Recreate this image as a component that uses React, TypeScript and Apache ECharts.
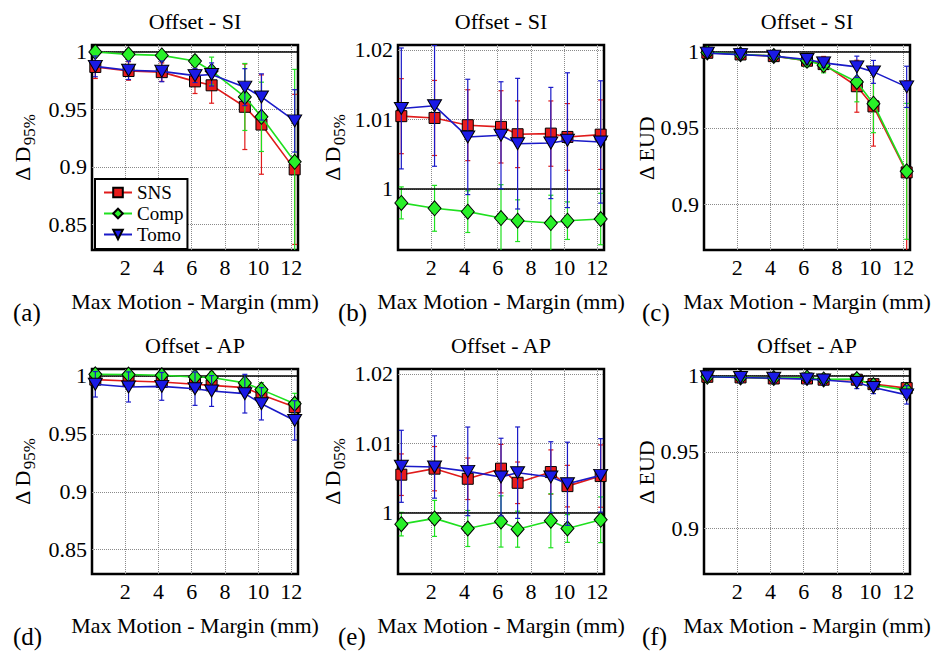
import React, { useEffect, useRef } from 'react';
import * as echarts from 'echarts';

// x positions (Max Motion - Margin, mm)
const xVals = [0.2, 2.2, 4.2, 6.2, 7.2, 9.2, 10.2, 12.2];
const xTicks = [2, 4, 6, 8, 10, 12];
const seriesNames = ['SNS', 'Comp', 'Tomo'];
const panelTitles = ['Offset - SI', 'Offset - SI', 'Offset - SI', 'Offset - AP', 'Offset - AP', 'Offset - AP'];
const panelLetters = ['(a)', '(b)', '(c)', '(d)', '(e)', '(f)'];
const xAxisTitle = 'Max Motion - Margin (mm)';

const ticksD95 = [0.85, 0.9, 0.95, 1];
const ticksD05 = [1, 1.01, 1.02];
const ticksEUD = [0.9, 0.95, 1];

// (a) ΔD95% SI
const snsA = [0.9865, 0.983, 0.982, 0.974, 0.9706, 0.952, 0.9366, 0.8978];
const snsAErr = [0.01, 0.008, 0.008, 0.0105, 0.0155, 0.037, 0.043, 0.065];
const compA = [0.9995, 0.9974, 0.9965, 0.9916, 0.983, 0.9605, 0.9433, 0.9044];
const compAErr = [0.004, 0.004, 0.004, 0.005, 0.012, 0.029, 0.03, 0.08];
const tomoA = [0.987, 0.9836, 0.9827, 0.979, 0.98, 0.969, 0.9605, 0.9398];
const tomoAErr = [0.009, 0.008, 0.009, 0.006, 0.01, 0.016, 0.02, 0.027];

// (b) ΔD05% SI
const snsB = [1.01046, 1.0102, 1.00916, 1.00892, 1.00786, 1.00795, 1.00747, 1.0078];
const snsBErr = [0.0054, 0.0054, 0.0051, 0.0052, 0.0048, 0.0047, 0.0048, 0.005];
const compB = [0.99798, 0.9972, 0.99672, 0.9958, 0.99542, 0.99508, 0.99542, 0.99566];
const compBErr = [0.0023, 0.0033, 0.003, 0.0048, 0.003, 0.004, 0.0027, 0.0037];
const tomoB = [1.01157, 1.01195, 1.00747, 1.00771, 1.0065, 1.0066, 1.007, 1.00675];
const tomoBErr = [0.0087, 0.0087, 0.0083, 0.0077, 0.0094, 0.008, 0.0097, 0.0088];

// (c) ΔEUD SI
const snsC = [0.9991, 0.998, 0.9969, 0.9939, 0.9917, 0.9772, 0.964, 0.9208];
const snsCErr = [0.002, 0.002, 0.002, 0.003, 0.005, 0.017, 0.026, 0.06];
const compC = [0.9993, 0.9981, 0.997, 0.9939, 0.991, 0.98, 0.9658, 0.9215];
const compCErr = [0.002, 0.002, 0.002, 0.004, 0.005, 0.013, 0.019, 0.0445];
const tomoC = [0.9989, 0.9979, 0.9969, 0.9947, 0.9925, 0.9899, 0.9866, 0.9768];
const tomoCErr = [0.002, 0.002, 0.002, 0.003, 0.003, 0.007, 0.0075, 0.0135];

// (d) ΔD95% AP
const snsD = [0.9968, 0.9957, 0.9948, 0.9928, 0.9919, 0.9899, 0.9838, 0.9731];
const snsDErr = [0.005, 0.005, 0.005, 0.006, 0.006, 0.007, 0.006, 0.006];
const compD = [1.0014, 1.0012, 1.0006, 0.9991, 0.9986, 0.994, 0.9882, 0.976];
const compDErr = [0.004, 0.004, 0.004, 0.005, 0.005, 0.006, 0.006, 0.009];
const tomoD = [0.9928, 0.9905, 0.991, 0.989, 0.987, 0.9847, 0.976, 0.9616];
const tomoDErr = [0.011, 0.013, 0.012, 0.0144, 0.0133, 0.0167, 0.014, 0.017];

// (e) ΔD05% AP
const snsE = [1.00544, 1.00631, 1.00485, 1.00631, 1.00427, 1.00582, 1.00379, 1.00524];
const snsEErr = [0.003, 0.0032, 0.003, 0.0035, 0.003, 0.0032, 0.003, 0.0045];
const compE = [0.9983, 0.99913, 0.99767, 0.99869, 0.99757, 0.99879, 0.99767, 0.99893];
const compEErr = [0.0017, 0.0026, 0.0026, 0.0037, 0.0026, 0.0039, 0.002, 0.0033];
const tomoE = [1.00665, 1.00655, 1.00592, 1.0051, 1.00573, 1.0051, 1.00413, 1.00534];
const tomoEErr = [0.0052, 0.0045, 0.0064, 0.0056, 0.0066, 0.0051, 0.006, 0.0053];

// (f) ΔEUD AP
const snsF = [0.9991, 0.9987, 0.998, 0.998, 0.9972, 0.9972, 0.9943, 0.9917];
const snsFErr = [0.002, 0.002, 0.002, 0.002, 0.002, 0.003, 0.003, 0.003];
const compF = [0.9991, 0.9987, 0.9983, 0.9985, 0.9974, 0.9976, 0.9937, 0.9904];
const compFErr = [0.002, 0.002, 0.002, 0.002, 0.002, 0.003, 0.003, 0.004];
const tomoF = [0.9991, 0.9986, 0.9982, 0.9976, 0.997, 0.9954, 0.9921, 0.9873];
const tomoFErr = [0.002, 0.003, 0.003, 0.003, 0.003, 0.004, 0.004, 0.006];

const FONT = 'Times New Roman, Liberation Serif, DejaVu Serif, serif';

const styles = [
  { line: '#e01b1b', fill: '#e81c1c', symbol: 'rect', size: 11, rotate: 0 },
  { line: '#1fe01f', fill: '#28f028', symbol: 'diamond', size: [13, 15], rotate: 0 },
  { line: '#1a1ac8', fill: '#1a1ae6', symbol: 'triangle', size: [14, 12], rotate: 180 },
];

const panels = [
  { yMain: 'Δ D', ySub: '95%', ymin: 0.828, ymax: 1.0055, ticks: ticksD95, vals: [snsA, compA, tomoA], errs: [snsAErr, compAErr, tomoAErr], nameX: 22 },
  { yMain: 'Δ D', ySub: '05%', ymin: 0.9912, ymax: 1.0207, ticks: ticksD05, vals: [snsB, compB, tomoB], errs: [snsBErr, compBErr, tomoBErr], nameX: 332 },
  { yMain: 'Δ EUD', ySub: '', ymin: 0.87, ymax: 1.0042, ticks: ticksEUD, vals: [snsC, compC, tomoC], errs: [snsCErr, compCErr, tomoCErr], nameX: 646 },
  { yMain: 'Δ D', ySub: '95%', ymin: 0.829, ymax: 1.006, ticks: ticksD95, vals: [snsD, compD, tomoD], errs: [snsDErr, compDErr, tomoDErr], nameX: 22 },
  { yMain: 'Δ D', ySub: '05%', ymin: 0.9911, ymax: 1.0207, ticks: ticksD05, vals: [snsE, compE, tomoE], errs: [snsEErr, compEErr, tomoEErr], nameX: 332 },
  { yMain: 'Δ EUD', ySub: '', ymin: 0.8703, ymax: 1.0042, ticks: ticksEUD, vals: [snsF, compF, tomoF], errs: [snsFErr, compFErr, tomoFErr], nameX: 646 },
];

const gridLefts = [92, 398, 704];
const gridTops = [45, 369];
const GW = 206;
const GH = 205;

function measure(text: string, size: number): number {
  const ctx = document.createElement('canvas').getContext('2d');
  if (!ctx) return text.length * size * 0.5;
  ctx.font = `${size}px ${FONT}`;
  return ctx.measureText(text).width;
}

export default function App() {
  const ref = useRef<HTMLDivElement>(null);
  useEffect(() => {
    if (!ref.current) return;
    const chart = echarts.init(ref.current, null, { renderer: 'svg' });

    const grids: any[] = [];
    const xAxes: any[] = [];
    const yAxes: any[] = [];
    const series: any[] = [];
    const graphics: any[] = [];

    panels.forEach((p, i) => {
      const col = i % 3;
      const row = Math.floor(i / 3);
      const left = gridLefts[col];
      const top = gridTops[row];
      grids.push({ left, top, width: GW, height: GH, show: true, borderColor: '#000', borderWidth: 2.5, backgroundColor: '#fff', containLabel: false });
      xAxes.push({
        type: 'value', gridIndex: i, min: 0, max: 12.4,
        axisLine: { show: false },
        axisTick: { show: false, customValues: xTicks },
        axisLabel: { customValues: xTicks, margin: 6, color: '#000', fontFamily: FONT, fontSize: 22 },
        splitLine: { show: true, lineStyle: { type: 'dotted', color: '#8a8a8a', width: 1 } },
        name: xAxisTitle, nameLocation: 'middle', nameGap: 40,
        nameTextStyle: { color: '#000', fontFamily: FONT, fontSize: 22 },
      });
      yAxes.push({
        type: 'value', gridIndex: i, min: p.ymin, max: p.ymax,
        axisLine: { show: false },
        axisTick: { show: false, customValues: p.ticks },
        axisLabel: {
          customValues: p.ticks, margin: 5, color: '#000', fontFamily: FONT, fontSize: 22,
          formatter: (v: number) => String(parseFloat(Number(v).toFixed(3))),
        },
        splitLine: { show: true, lineStyle: { type: 'dotted', color: '#8a8a8a', width: 1 } },
      });

      seriesNames.forEach((name, k) => {
        const st = styles[k];
        const vals = p.vals[k];
        const errs = p.errs[k];
        series.push({
          name: name + ' error',
          type: 'custom',
          xAxisIndex: i, yAxisIndex: i,
          z: 2 + 2 * k,
          clip: true,
          silent: true,
          data: xVals.map((x, j) => [x, vals[j] - errs[j], vals[j] + errs[j]]),
          encode: { x: 0, y: [1, 2] },
          renderItem: (params: any, api: any) => {
            const x = api.value(0);
            const t = api.coord([x, api.value(2)]);
            const b = api.coord([x, api.value(1)]);
            const w = 2.5;
            const style = { stroke: st.line, lineWidth: 1.2, fill: null };
            return {
              type: 'group',
              children: [
                { type: 'line', shape: { x1: t[0], y1: t[1], x2: b[0], y2: b[1] }, style },
                { type: 'line', shape: { x1: t[0] - w, y1: t[1], x2: t[0] + w, y2: t[1] }, style },
                { type: 'line', shape: { x1: b[0] - w, y1: b[1], x2: b[0] + w, y2: b[1] }, style },
              ],
            };
          },
        });
        const s: any = {
          name,
          type: 'line',
          xAxisIndex: i, yAxisIndex: i,
          z: 3 + 2 * k,
          data: xVals.map((x, j) => [x, vals[j]]),
          symbol: st.symbol,
          symbolSize: st.size,
          symbolRotate: st.rotate,
          showAllSymbol: true,
          lineStyle: { color: st.line, width: 1.6 },
          itemStyle: { color: st.fill, borderColor: '#000', borderWidth: 1 },
          emphasis: { disabled: true },
        };
        if (k === 0) {
          s.markLine = {
            silent: true, symbol: 'none', label: { show: false },
            lineStyle: { color: '#000', type: 'solid', width: 1.6 },
            data: [{ yAxis: 1 }],
          };
        }
        series.push(s);
      });

      const cx = left + GW / 2;
      graphics.push({
        type: 'text', x: cx, y: top - 24,
        style: { text: panelTitles[i], font: `22px ${FONT}`, fill: '#000', align: 'center', verticalAlign: 'middle' },
      });
      const letterX = [13, 338, 642][col];
      graphics.push({
        type: 'text', x: letterX, y: top + 267,
        style: { text: panelLetters[i], font: `25px ${FONT}`, fill: '#000', align: 'left', verticalAlign: 'middle' },
      });
      const mainSize = 22;
      const subSize = 17;
      const mw = measure(p.yMain, mainSize);
      const sw = p.ySub ? measure(p.ySub, subSize) : 0;
      const total = mw + sw;
      const children: any[] = [
        { type: 'text', x: -total / 2, y: 0, style: { text: p.yMain, font: `${mainSize}px ${FONT}`, fill: '#000', align: 'left', verticalAlign: 'middle' } },
      ];
      if (p.ySub) {
        children.push({ type: 'text', x: -total / 2 + mw, y: 7, style: { text: p.ySub, font: `${subSize}px ${FONT}`, fill: '#000', align: 'left', verticalAlign: 'middle' } });
      }
      graphics.push({ type: 'group', x: p.nameX, y: top + GH / 2, rotation: Math.PI / 2, children });
    });

    chart.setOption({
      animation: false,
      backgroundColor: '#fff',
      textStyle: { fontFamily: FONT },
      grid: grids,
      xAxis: xAxes,
      yAxis: yAxes,
      legend: {
        data: seriesNames,
        orient: 'vertical',
        left: 95, top: 179,
        itemWidth: 28, itemHeight: 12, itemGap: 2,
        padding: [4, 4, 5, 8],
        borderColor: '#000', borderWidth: 2, backgroundColor: '#fff',
        textStyle: { fontFamily: FONT, fontSize: 19, color: '#000' },
        selectedMode: false,
        z: 20,
      },
      graphic: graphics,
      series,
    });
    return () => chart.dispose();
  }, []);
  return <div ref={ref} style={{ position: 'fixed', left: 0, top: 0, width: 941, height: 656, background: '#fff' }} />;
}
